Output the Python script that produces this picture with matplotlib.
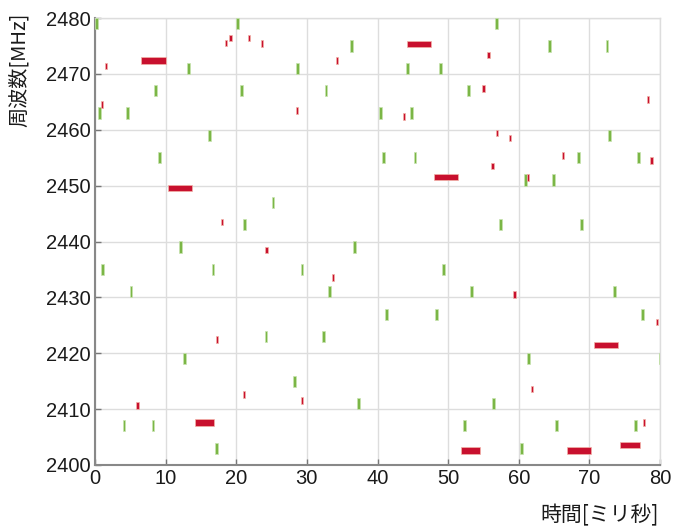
import matplotlib
matplotlib.use("Agg")
import matplotlib.pyplot as plt
import numpy as np

# green hops: time [ms], centre frequency [MHz]
green_t = [0.2, 20.2, 13.2, 8.6, 20.7, 0.6, 4.6, 16.2, 9.1, 25.2, 21.2,
           36.3, 28.7, 44.3, 48.9, 32.7, 52.9, 40.4, 44.8, 40.8, 45.3,
           56.9, 64.4, 72.5, 72.9, 68.5, 77.0, 60.9, 64.9, 57.4, 68.9,
           12.1, 1.1, 16.7, 5.1, 24.2, 12.7, 4.1, 8.2, 17.2,
           36.8, 29.3, 33.2, 49.4, 53.3, 41.3, 48.4, 32.3, 28.2, 37.3, 52.3,
           73.5, 77.5, 61.4, 80.1, 56.4, 65.4, 76.5, 60.4]
green_f = [2479, 2479, 2471, 2467, 2467, 2463, 2463, 2459, 2455, 2447, 2443,
           2475, 2471, 2471, 2471, 2467, 2467, 2463, 2463, 2455, 2455,
           2479, 2475, 2475, 2459, 2455, 2455, 2451, 2451, 2443, 2443,
           2439, 2435, 2435, 2431, 2423, 2419, 2407, 2407, 2403,
           2439, 2435, 2431, 2435, 2431, 2427, 2427, 2423, 2415, 2411, 2407,
           2431, 2427, 2419, 2419, 2411, 2407, 2407, 2403]

# short red hops: time [ms], frequency [MHz]
red_t = [18.6, 19.2, 21.8, 23.6, 1.6, 1.0, 18.0,
         34.3, 28.6, 43.7,
         55.7, 55.0, 78.3, 56.9, 58.8, 56.3, 66.3, 78.8, 61.3,
         24.3, 17.3, 21.1, 6.0,
         33.7, 29.3,
         59.4, 79.6, 61.9, 77.7]
red_f = [2475.5, 2476.4, 2476.4, 2475.4, 2471.4, 2464.5, 2443.5,
         2472.4, 2463.5, 2462.4,
         2473.4, 2467.4, 2465.4, 2459.4, 2458.5, 2453.5, 2455.4, 2454.5, 2451.5,
         2438.5, 2422.5, 2412.6, 2410.6,
         2433.5, 2411.6,
         2430.5, 2425.6, 2413.6, 2407.6]

# long red bursts: start, end [ms], frequency [MHz]
burst_start = [6.5, 10.3, 44.2, 48.0, 14.1, 51.8, 70.7, 66.9, 74.4]
burst_end = [10.0, 13.8, 47.6, 51.4, 16.8, 54.5, 74.1, 70.2, 77.1]
burst_f = [2472.4, 2449.5, 2475.4, 2451.5, 2407.6, 2402.6, 2421.5, 2402.6, 2403.6]

GREEN = "#7bb646"
RED = "#c8102e"
CJK = ["Noto Sans CJK JP", "DejaVu Sans"]

plt.rcParams["font.family"] = ["Liberation Sans", "Noto Sans CJK JP"]

fig = plt.figure(figsize=(6.73, 5.27), dpi=100)
ax = fig.add_axes([95 / 673, 62 / 527, 565 / 673, 447 / 527])

ax.bar(green_t, 2.0, width=0.4, bottom=np.array(green_f) - 1.0,
       color=GREEN, edgecolor="#c8e3b0", linewidth=0.5, zorder=3)
ax.bar(red_t, 1.2, width=0.32, bottom=np.array(red_f) - 0.6,
       color=RED, edgecolor="#f2b3a8", linewidth=0.5, zorder=3)
starts = np.array(burst_start)
ax.bar(starts, 1.1, width=np.array(burst_end) - starts, align="edge",
       bottom=np.array(burst_f) - 0.55,
       color=RED, edgecolor="#f2b3a8", linewidth=0.5, zorder=3)

ax.set_xlim(0, 80)
ax.set_ylim(2400, 2480)
ax.set_xticks(range(0, 81, 10))
ax.set_yticks(range(2400, 2481, 10))
ax.grid(True, color="#dddddd", linewidth=1.0, zorder=0)
ax.set_axisbelow(True)

ax.tick_params(direction="in", length=4, width=1, color="#777777",
               labelsize=14.5, labelcolor="#1a1a1a", pad=3)
for side in ["left", "bottom"]:
    ax.spines[side].set_color("#888888")
    ax.spines[side].set_linewidth(1.5)
for side in ["top", "right"]:
    ax.spines[side].set_color("#dddddd")
    ax.spines[side].set_linewidth(1.0)

fig.text(19 / 673, 1 - 70 / 527, "周波数[MHz]", rotation=90, ha="center",
         va="center", fontsize=14.5, family=CJK, color="#1a1a1a")
fig.text(659 / 673, 1 - 515 / 527, "時間[ミリ秒]", ha="right", va="center",
         fontsize=15, family=CJK, color="#1a1a1a")

fig.savefig("out.png", dpi=100)
